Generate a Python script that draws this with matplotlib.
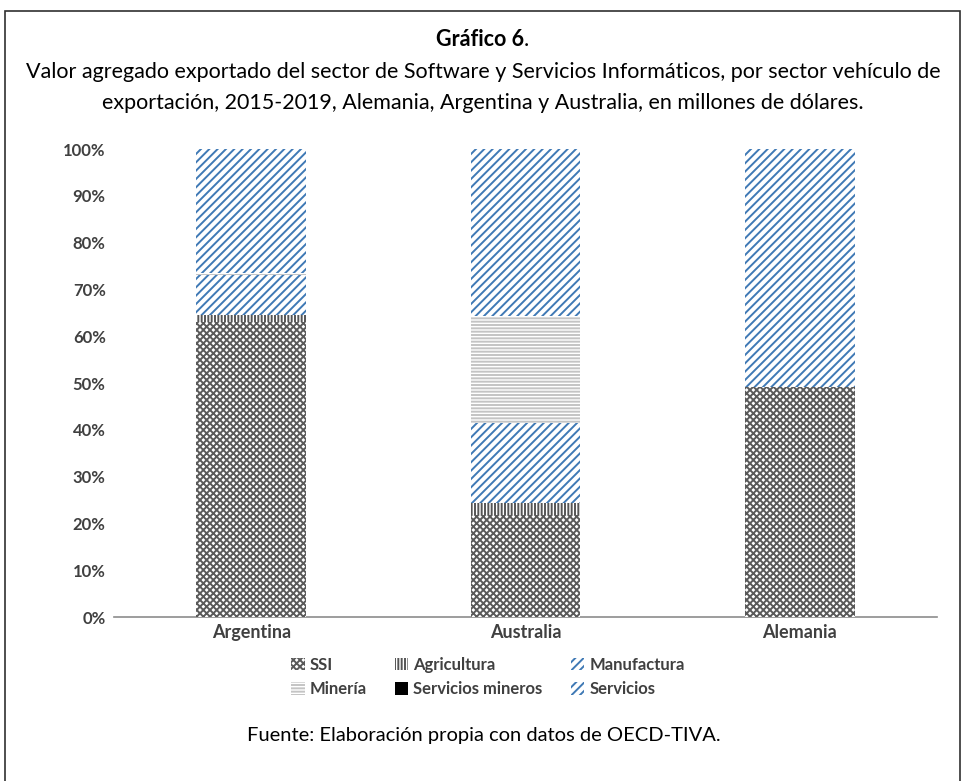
import matplotlib
matplotlib.use('Agg')
from matplotlib import pyplot as plt
from matplotlib.patches import Patch, Rectangle
import numpy as np

plt.rcParams['font.family'] = ['Lato', 'DejaVu Sans']
plt.rcParams['hatch.linewidth'] = 1.4

countries = ['Argentina', 'Australia', 'Alemania']
sectors = ['SSI', 'Agricultura', 'Manufactura', 'Minería', 'Servicios mineros', 'Servicios']

# shares in %
ssi = [63.0, 21.8, 49.1]
agricultura = [1.5, 2.6, 0.0]
manufactura = [8.5, 17.1, 28.3]
mineria = [0.5, 22.8, 0.0]
serv_mineros = [0.0, 0.0, 0.0]
servicios = [26.5, 35.7, 22.6]

yticks = [0, 10, 20, 30, 40, 50, 60, 70, 80, 90, 100]

blue = '#3f79b5'
styles = {
    'SSI': dict(hatch='xxxxx', edgecolor='#5a5a5a'),
    'Agricultura': dict(hatch='|||||', edgecolor='#555555'),
    'Manufactura': dict(hatch='////', edgecolor=blue),
    'Minería': dict(hatch='-----', edgecolor='#c4c4c4'),
    'Servicios mineros': dict(hatch=None, edgecolor='black', facecolor='black'),
    'Servicios': dict(hatch='////', edgecolor=blue),
}

series = [ssi, agricultura, manufactura, mineria, serv_mineros, servicios]

fig = plt.figure(figsize=(9.66, 7.81), dpi=100)
ax = fig.add_axes([114/966, 1-617/781, (937-114)/966, (617-149)/781])

x = np.arange(len(countries))
bottom = np.zeros(len(countries))
for name, vals in zip(sectors, series):
    st = styles[name]
    vals = np.array(vals)
    ax.bar(x, vals, 0.4, bottom=bottom, facecolor=st.get('facecolor', 'white'),
           edgecolor=st['edgecolor'], hatch=st['hatch'], linewidth=0)
    bottom += vals

ax.set_xlim(-0.5, 2.5)
ax.set_ylim(0, 100)
ax.set_yticks(yticks)
ax.set_yticklabels([f'{t}%' for t in yticks], fontweight='bold', color='#404040', fontsize=12)
ax.set_xticks(x)
ax.set_xticklabels(countries, fontweight='bold', color='#404040', fontsize=13)
ax.tick_params(axis='both', length=0)
ax.tick_params(axis='y', pad=6)
ax.tick_params(axis='x', pad=5)
for s in ['left', 'right', 'top']:
    ax.spines[s].set_visible(False)
ax.spines['bottom'].set_color('#8c8c8c')
ax.spines['bottom'].set_linewidth(1.2)
ax.spines['bottom'].set_zorder(0)

order = ['SSI', 'Minería', 'Agricultura', 'Servicios mineros', 'Manufactura', 'Servicios']
handles = []
for name in order:
    st = styles[name]
    handles.append(Patch(facecolor=st.get('facecolor', 'white'), edgecolor=st['edgecolor'],
                         hatch=st['hatch'], linewidth=0, label=name))
leg = fig.legend(handles=handles, ncol=3, loc='center', bbox_to_anchor=(488/966, 1-677/781),
                 frameon=False, fontsize=12, handlelength=0.8, handleheight=0.8,
                 handletextpad=0.3, columnspacing=1.7, labelspacing=0.5)
for t in leg.get_texts():
    t.set_color('#404040')
    t.set_fontweight('bold')

# title
t1 = fig.text(480/966, 1-39/781, 'Gráfico 6', ha='center', va='center', fontsize=15.5,
              fontweight='bold')
ax.annotate('.', xy=(1, 0), xycoords=t1, ha='left', va='bottom', fontsize=15.5)
fig.text(483/966, 1-72/781,
         'Valor agregado exportado del sector de Software y Servicios Informáticos, por sector vehículo de',
         ha='center', va='center', fontsize=15.5)
fig.text(483/966, 1-103/781,
         'exportación, 2015-2019, Alemania, Argentina y Australia, en millones de dólares.',
         ha='center', va='center', fontsize=15.5)
fig.text(484/966, 1-735/781, 'Fuente: Elaboración propia con datos de OECD-TIVA.',
         ha='center', va='center', fontsize=14.5)

fig.patches.append(Rectangle((5/966, -0.01), 955/966, 1 - 11/781 + 0.01, transform=fig.transFigure,
                             fill=False, edgecolor='#303030', linewidth=1.2))

fig.savefig('out.png', dpi=100)
